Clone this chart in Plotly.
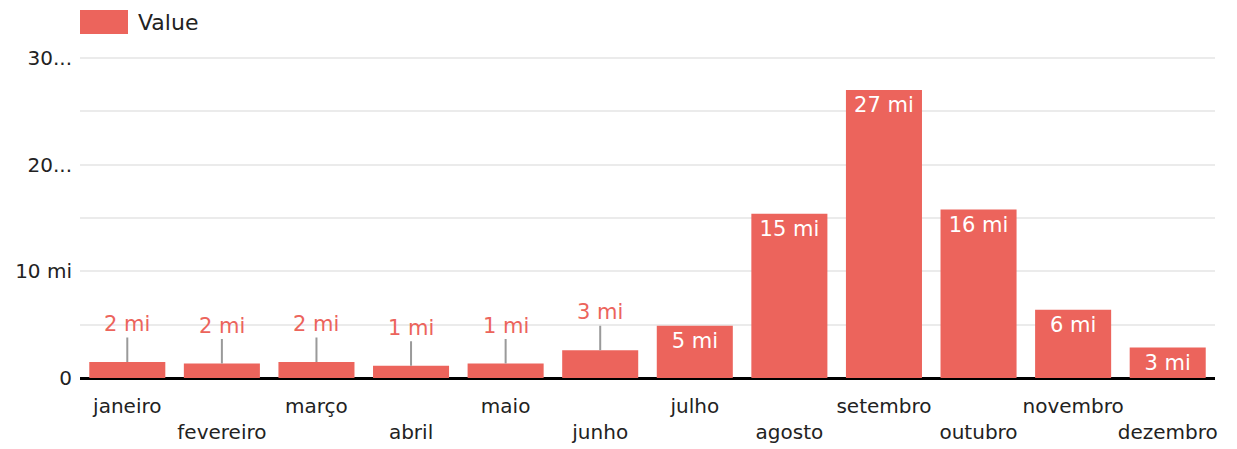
import plotly.graph_objects as go

months = ["janeiro", "fevereiro", "março", "abril", "maio", "junho",
          "julho", "agosto", "setembro", "outubro", "novembro", "dezembro"]
values = [1.5, 1.35, 1.5, 1.15, 1.35, 2.6, 4.9, 15.4, 27.0, 15.8, 6.4, 2.85]
value_labels = ["2 mi", "2 mi", "2 mi", "1 mi", "1 mi", "3 mi",
                "5 mi", "15 mi", "27 mi", "16 mi", "6 mi", "3 mi"]
x_ticktext = ["janeiro", "<br>fevereiro", "março", "<br>abril", "maio", "<br>junho",
              "julho", "<br>agosto", "setembro", "<br>outubro", "novembro", "<br>dezembro"]
y_tickvals = [0, 10, 20, 30]
y_ticktext = ["0", "10 mi", "20...", "30..."]
series_name = "Value"

BAR = "#ec645c"
FONT = "DejaVu Sans"
INSIDE_MIN = 2.75

# page body has an 8px margin; compensate so the plot lands where the reference has it
OFF = 8
L, R, T, B = 80 - OFF, 22 + OFF, 57 - OFF, 71 + OFF
W, H = 1237, 449

inside_text = [t if v >= INSIDE_MIN else "" for v, t in zip(values, value_labels)]

fig = go.Figure()
fig.add_trace(go.Bar(
    x=months, y=values, name=series_name,
    marker=dict(color=BAR, line=dict(width=0)),
    text=inside_text, textposition="inside", insidetextanchor="end",
    constraintext="none",
    textfont=dict(color="white", size=21, family=FONT),
    cliponaxis=False, showlegend=False,
))

annotations = []
for m, v, t in zip(months, values, value_labels):
    if v < INSIDE_MIN:
        annotations.append(dict(
            x=m, y=v, xref="x", yref="y", text=t, showarrow=True,
            arrowhead=0, arrowwidth=2, arrowcolor="#9a9a9a",
            ax=0, ay=-38, standoff=0, startstandoff=0,
            font=dict(color=BAR, size=21, family=FONT),
        ))

H_PLOT = H - T - B
W_PLOT = W - L - R
def px_x(px):
    return (px - OFF - L) / W_PLOT
def px_y(py):
    return (H - B - (py - OFF)) / H_PLOT

annotations.append(dict(
    x=px_x(136), y=px_y(22), xref="paper", yref="paper", text=series_name, showarrow=False,
    xanchor="left", yanchor="middle", font=dict(size=22, color="#222", family=FONT),
))

fig.update_layout(
    width=W, height=H,
    margin=dict(l=L, r=R, t=T, b=B),
    paper_bgcolor="white", plot_bgcolor="white",
    bargap=0.196,
    font=dict(family=FONT, size=20, color="#222"),
    annotations=annotations,
    xaxis=dict(
        tickmode="array", tickvals=months, ticktext=x_ticktext,
        tickfont=dict(size=20, color="#222", family=FONT),
        tickangle=0, automargin=False,
        showgrid=False, showline=False, zeroline=False,
        ticks="outside", ticklen=10, tickcolor="rgba(0,0,0,0)",
    ),
    yaxis=dict(
        range=[0, 30.1], tickmode="array", tickvals=y_tickvals, ticktext=y_ticktext,
        tickfont=dict(size=20, color="#222", family=FONT),
        automargin=False,
        showgrid=True, gridcolor="#ebebeb", gridwidth=2,
        minor=dict(dtick=5, tick0=0, showgrid=True, gridcolor="#ebebeb", gridwidth=2),
        zeroline=True, zerolinecolor="black", zerolinewidth=3,
        ticks="outside", ticklen=3, tickcolor="rgba(0,0,0,0)", showline=False,
    ),
)

fig.add_shape(type="rect", xref="paper", yref="paper",
              x0=px_x(80), x1=px_x(128), y0=px_y(34), y1=px_y(10),
              fillcolor=BAR, line=dict(width=0), layer="above")

fig.write_html("out.html")
